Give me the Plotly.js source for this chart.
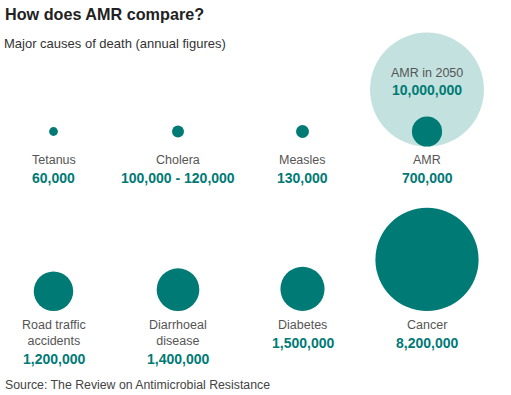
<!DOCTYPE html>
<html>
<head>
<meta charset="utf-8">
<script src="https://cdn.plot.ly/plotly-3.0.1.min.js"></script>
<style>html,body{margin:0;padding:0;background:#fff;}#chart{width:511px;height:395px;}</style>
</head>
<body>
<div id="chart"></div>
<script>
// Data
const categories = ['Tetanus', 'Cholera', 'Measles', 'AMR', 'Road traffic<br>accidents', 'Diarrhoeal<br>disease', 'Diabetes', 'Cancer'];
const deaths = [60000, 110000, 130000, 700000, 1200000, 1400000, 1500000, 8200000];
const valueLabels = ['60,000', '100,000 - 120,000', '130,000', '700,000', '1,200,000', '1,400,000', '1,500,000', '8,200,000'];
const columns = [0, 1, 2, 3, 0, 1, 2, 3];
const rows = [0, 0, 0, 0, 1, 1, 1, 1];
const projectionLabel = 'AMR in 2050';
const projectionDeaths = 10000000;
const projectionValueLabel = '10,000,000';

// Layout constants (y axis in pixel units, reversed)
const W = 511, H = 395;
const sizeref = 1540;
const radius = v => Math.sqrt(v / 2 / sizeref);
const row0Center = 131.5;
const row1Bottom = 311;
const nameTop = [152, 317];
const lineH = 16;
const dark = '#007a75', light = '#c3e2df', grey = '#555555';
const FONT = 'Liberation Sans, Arial, Helvetica, sans-serif';

const yc = deaths.map((v, i) => rows[i] === 0 ? row0Center : row1Bottom - radius(v));
const amrIdx = categories.indexOf('AMR');
const amrBottom = yc[amrIdx] + radius(deaths[amrIdx]);
const projY = amrBottom - radius(projectionDeaths);

const traces = [
  {
    type: 'scatter', mode: 'markers', x: [columns[amrIdx]], y: [projY],
    marker: {size: [projectionDeaths], sizemode: 'area', sizeref: sizeref, color: light, opacity: 1, line: {width: 0}},
    hoverinfo: 'skip', cliponaxis: false
  },
  {
    type: 'scatter', mode: 'markers', x: columns, y: yc,
    marker: {size: deaths, sizemode: 'area', sizeref: sizeref, color: dark, opacity: 1, line: {width: 0}},
    hoverinfo: 'skip', cliponaxis: false
  }
];

const annotations = [];
categories.forEach((name, i) => {
  const nLines = name.split('<br>').length;
  const top = nameTop[rows[i]];
  annotations.push({
    x: columns[i], y: top, xref: 'x', yref: 'y', text: name, showarrow: false,
    xanchor: 'center', yanchor: 'top', font: {family: FONT, size: 12.5, color: grey}, borderpad: 0
  });
  annotations.push({
    x: columns[i], y: top + nLines * lineH + 9.5, xref: 'x', yref: 'y', text: '<b>' + valueLabels[i] + '</b>', showarrow: false,
    xanchor: 'center', yanchor: 'middle', font: {family: FONT, size: 14, color: dark}, borderpad: 0
  });
});
annotations.push({x: columns[amrIdx], y: 73, xref: 'x', yref: 'y', text: projectionLabel, showarrow: false,
  xanchor: 'center', yanchor: 'middle', font: {family: FONT, size: 12.5, color: grey}});
annotations.push({x: columns[amrIdx], y: 90, xref: 'x', yref: 'y', text: '<b>' + projectionValueLabel + '</b>', showarrow: false,
  xanchor: 'center', yanchor: 'middle', font: {family: FONT, size: 14, color: dark}});

annotations.push({x: 4 / W, y: 1 - 14 / H, xref: 'paper', yref: 'paper', text: '<b>How does AMR compare?</b>', showarrow: false,
  xanchor: 'left', yanchor: 'middle', font: {family: FONT, size: 16.2, color: '#222222'}, borderpad: 0});
annotations.push({x: 3 / W, y: 1 - 43 / H, xref: 'paper', yref: 'paper', text: 'Major causes of death (annual figures)', showarrow: false,
  xanchor: 'left', yanchor: 'middle', font: {family: FONT, size: 13, color: '#333333'}, borderpad: 0});
annotations.push({x: 4 / W, y: 1 - 385 / H, xref: 'paper', yref: 'paper', text: 'Source: The Review on Antimicrobial Resistance', showarrow: false,
  xanchor: 'left', yanchor: 'middle', font: {family: FONT, size: 12.3, color: '#444444'}, borderpad: 0});

const colStart = 53.5, colStep = 124.5;
const layout = {
  width: W, height: H,
  margin: {l: 0, r: 0, t: 0, b: 0},
  paper_bgcolor: '#ffffff', plot_bgcolor: '#ffffff',
  showlegend: false,
  xaxis: {range: [-colStart / colStep, (W - colStart) / colStep], visible: false, fixedrange: true},
  yaxis: {range: [H, 0], visible: false, fixedrange: true},
  annotations: annotations
};

Plotly.newPlot('chart', traces, layout, {displayModeBar: false, staticPlot: true});
</script>
</body>
</html>
